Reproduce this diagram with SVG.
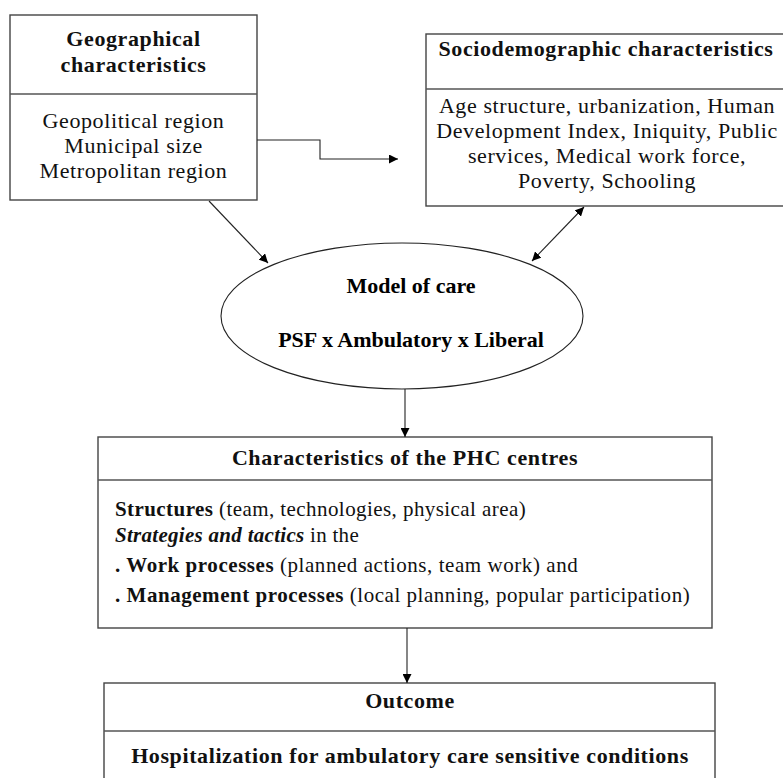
<svg xmlns="http://www.w3.org/2000/svg" width="783" height="778" viewBox="0 0 783 778">
<style>
.box{fill:#fff;stroke:#444;stroke-width:1.4}
.div{stroke:#555;stroke-width:1.4}
.t{font-family:"Liberation Serif",serif;font-size:22px;letter-spacing:0.6px;fill:#111}
.s{font-size:21px;letter-spacing:0.3px}
.b{font-weight:bold}
.c{text-anchor:middle}
.m{font-family:"Liberation Serif",serif;font-size:22px;font-weight:bold;text-anchor:middle;fill:#000}
.ln{fill:none;stroke:#222;stroke-width:1.1}
</style>
<defs>
<marker id="ah" viewBox="0 0 10 10" refX="10" refY="5" markerWidth="9" markerHeight="9" markerUnits="userSpaceOnUse" orient="auto-start-reverse">
<path d="M0,0 L10,5 L0,10 z" fill="#000"/>
</marker>
</defs>
<rect width="783" height="778" fill="#fff"/>
<g id="geo">
<rect class="box" x="10" y="15" width="247" height="185"/>
<line class="div" x1="10" y1="94" x2="257" y2="94"/>
<text class="t b c" x="133.5" y="46">Geographical</text>
<text class="t b c" x="133.5" y="72">characteristics</text>
<text class="t c" x="133.5" y="128">Geopolitical region</text>
<text class="t c" x="133.5" y="153">Municipal size</text>
<text class="t c" x="133.5" y="178">Metropolitan region</text>
</g>
<g id="socio">
<rect class="box" x="426" y="34" width="362" height="172"/>
<line class="div" x1="426" y1="89" x2="788" y2="89"/>
<text class="t b c" x="606" y="56">Sociodemographic characteristics</text>
<text class="t c" x="607" y="113">Age structure, urbanization, Human</text>
<text class="t c" x="607" y="138">Development Index, Iniquity, Public</text>
<text class="t c" x="607" y="163">services, Medical work force,</text>
<text class="t c" x="607" y="188">Poverty, Schooling</text>
</g>
<g id="model">
<ellipse fill="#fff" stroke="#222" stroke-width="1.1" cx="402" cy="316" rx="181" ry="73"/>
<text class="m" x="411" y="293">Model of care</text>
<text class="m" x="411" y="347">PSF x Ambulatory x Liberal</text>
</g>
<g id="phc">
<rect class="box" x="98" y="437" width="614" height="191"/>
<line class="div" x1="98" y1="480" x2="712" y2="480"/>
<text class="t b c" x="405" y="465">Characteristics of the PHC centres</text>
<text class="t s" x="115" y="516" textLength="411" lengthAdjust="spacing"><tspan class="b">Structures</tspan> (team, technologies, physical area)</text>
<text class="t s" x="115" y="542" textLength="244" lengthAdjust="spacing"><tspan class="b" font-style="italic">Strategies and tactics</tspan> in the</text>
<text class="t s" x="115" y="572" textLength="463" lengthAdjust="spacing"><tspan class="b">. Work processes</tspan> (planned actions, team work) and</text>
<text class="t s" x="115" y="602" textLength="575" lengthAdjust="spacing"><tspan class="b">. Management processes</tspan> (local planning, popular participation)</text>
</g>
<g id="outcome">
<rect class="box" x="104" y="683" width="611" height="110"/>
<line class="div" x1="104" y1="731" x2="715" y2="731"/>
<text class="t b c" x="410" y="708">Outcome</text>
<text class="t b c" x="410" y="763">Hospitalization for ambulatory care sensitive conditions</text>
</g>
<g id="connectors">
<polyline class="ln" points="257,140 320,140 320,159 398,159" marker-end="url(#ah)"/>
<line class="ln" x1="209" y1="201" x2="268" y2="263" marker-end="url(#ah)"/>
<line class="ln" x1="532" y1="261" x2="584" y2="207" marker-start="url(#ah)" marker-end="url(#ah)"/>
<line class="ln" x1="405" y1="389" x2="405" y2="437" marker-end="url(#ah)"/>
<line class="ln" x1="407" y1="628" x2="407" y2="683" marker-end="url(#ah)"/>
</g>
</svg>
